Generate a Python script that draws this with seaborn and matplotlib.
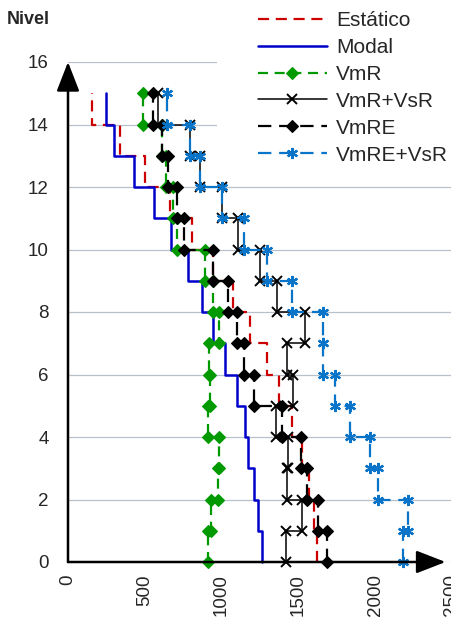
import numpy as np
import matplotlib
matplotlib.use("Agg")
import matplotlib.pyplot as plt
import seaborn as sns
from matplotlib.patches import Rectangle

# ---- data (value per story; story i spans level i-1 .. i) ----
stories = list(range(1, 16))
estatico = [1623, 1604, 1571, 1525, 1460, 1375, 1297, 1186, 1076, 945, 808, 665, 502, 339, 156]
modal = [1265, 1238, 1212, 1173, 1154, 1102, 1023, 945, 874, 782, 671, 561, 430, 300, 248]
vmr = [913, 932, 978, 984, 913, 926, 919, 984, 945, 893, 711, 684, 639, 613, 489]
vmr_vsr = [1421, 1525, 1428, 1434, 1356, 1467, 1428, 1545, 1362, 1252, 1108, 1004, 860, 795, 587]
vmre = [1688, 1630, 1558, 1519, 1395, 1213, 1147, 1102, 1043, 945, 756, 711, 652, 613, 554]
vmre_vsr = [2184, 2216, 2021, 1969, 1838, 1741, 1662, 1662, 1460, 1297, 1147, 1004, 860, 795, 645]

series_names = ["Estático", "Modal", "VmR", "VmR+VsR", "VmRE", "VmRE+VsR"]
x_ticks = [0, 500, 1000, 1500, 2000, 2500]
y_ticks = [0, 2, 4, 6, 8, 10, 12, 14, 16]

sns.set_style("white")
plt.rcParams["font.family"] = ["Liberation Sans", "DejaVu Sans"]


def step(vals):
    v = np.asarray(vals, dtype=float)
    s = np.asarray(stories)
    xs = np.repeat(v, 2)
    ys = np.column_stack([s - 1, s]).ravel()
    return xs, ys


fig = plt.figure(figsize=(4.52, 6.2), dpi=100)
ax = fig.add_axes([68 / 452, 1 - 562 / 620, 1 - 68 / 452, 500 / 620])

styles = [
    dict(color="#CC0000", lw=1.6, linestyle=(0, (5, 3)), marker=None),
    dict(color="#0000CC", lw=1.8, linestyle="-", marker=None),
    dict(color="#009A00", lw=1.6, linestyle=(0, (4.5, 3)), marker="D", ms=6,
         markeredgecolor="#009A00", markeredgewidth=0.8),
    dict(color="black", lw=1.1, linestyle="-", marker="x", ms=6.5,
         markeredgecolor="black", markeredgewidth=1.4),
    dict(color="black", lw=1.6, linestyle=(0, (6, 3.5)), marker="D", ms=6,
         markeredgecolor="black", markeredgewidth=0.8),
    dict(color="#0A74C8", lw=1.6, linestyle=(0, (6, 3.5)), marker=(6, 2, 0), ms=8,
         markeredgecolor="#0A74C8", markeredgewidth=1.6),
]
data = [estatico, modal, vmr, vmr_vsr, vmre, vmre_vsr]

for name, vals, st in zip(series_names, data, styles):
    xs, ys = step(vals)
    kw = dict(st)
    marker = kw.pop("marker")
    if marker is None:
        sns.lineplot(x=xs, y=ys, sort=False, estimator=None, ax=ax, label=name,
                     clip_on=False, **kw)
    else:
        sns.lineplot(x=xs, y=ys, sort=False, estimator=None, ax=ax, label=name,
                     marker=marker, clip_on=False, **kw)

ax.set_xlim(0, 2500)
ax.set_ylim(0, 16)
ax.set_xticks(x_ticks)
ax.set_xticklabels([str(t) for t in x_ticks], rotation=90, fontsize=13.5)
ax.set_yticks(y_ticks)
ax.set_yticklabels([str(t) for t in y_ticks], fontsize=13.5)
ax.tick_params(axis="both", length=0)
ax.tick_params(axis="x", pad=9)
ax.tick_params(axis="y", pad=14)
for sp in ax.spines.values():
    sp.set_visible(False)
ax.set_axisbelow(True)
ax.yaxis.grid(True, color="#b8c0cc", lw=0.9)
ax.xaxis.grid(False)
ax.set_xlabel("")
ax.set_ylabel("")

# white background behind legend
ax.add_patch(Rectangle((217 / 452, 1 - 172 / 620), (452 - 217) / 452, 172 / 620,
                       transform=fig.transFigure, facecolor="white", edgecolor="none",
                       zorder=1, clip_on=False))

# axis arrows
arrow = dict(arrowstyle="-|>,head_length=0.9,head_width=0.35", lw=1.8, color="black",
             shrinkA=0, shrinkB=0, mutation_scale=20)
ax.annotate("", xy=(0, 16), xytext=(0, 0), arrowprops=arrow, annotation_clip=False)
ax.annotate("", xy=(2458, 0), xytext=(0, 0), arrowprops=arrow, annotation_clip=False)

fig.text(7 / 452, 1 - 20 / 620, "Nivel", fontsize=13, fontweight="bold", va="center", ha="left")

handles, labels = ax.get_legend_handles_labels()
leg = ax.legend(handles, labels, loc="upper left", bbox_to_anchor=(258 / 452, 1 - 11 / 620),
                bbox_transform=fig.transFigure, frameon=False, fontsize=15,
                handlelength=3.3, handletextpad=0.45, labelspacing=0.38,
                borderpad=0, borderaxespad=0, numpoints=1)

fig.savefig("out.png", dpi=100)
